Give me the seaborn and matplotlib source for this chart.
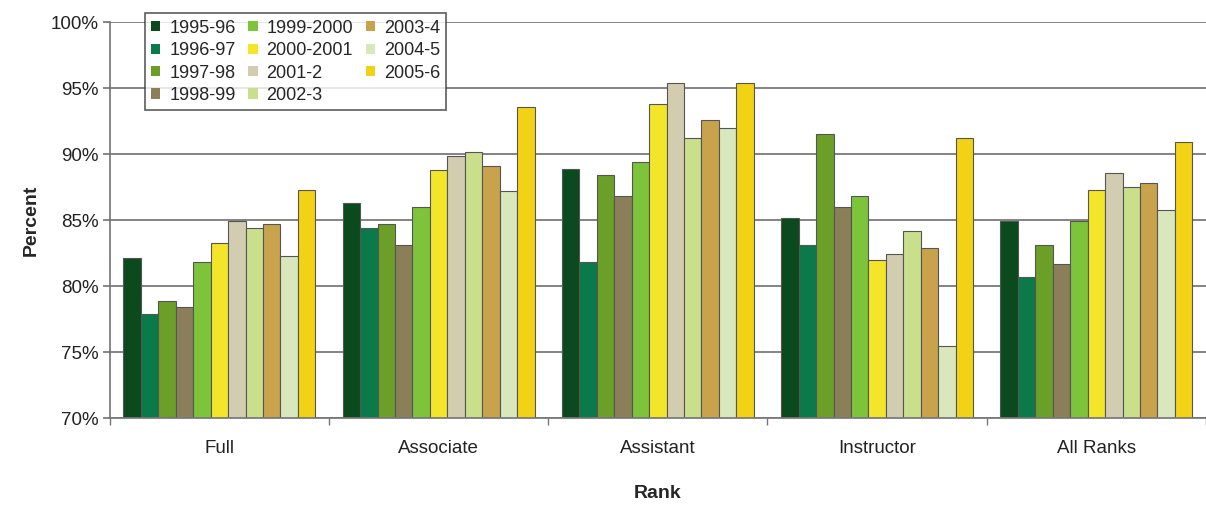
import numpy as np
import pandas as pd
import matplotlib
matplotlib.use("Agg")
import matplotlib.pyplot as plt
import seaborn as sns
from matplotlib.ticker import FuncFormatter, FixedLocator

ranks = ["Full", "Associate", "Assistant", "Instructor", "All Ranks"]
years = ["1995-96", "1996-97", "1997-98", "1998-99", "1999-2000", "2000-2001",
         "2001-2", "2002-3", "2003-4", "2004-5", "2005-6"]

full = [82.1, 77.9, 78.9, 78.4, 81.8, 83.3, 84.9, 84.4, 84.7, 82.3, 87.3]
associate = [86.3, 84.4, 84.7, 83.1, 86.0, 88.8, 89.9, 90.2, 89.1, 87.2, 93.6]
assistant = [88.9, 81.8, 88.4, 86.8, 89.4, 93.8, 95.4, 91.2, 92.6, 92.0, 95.4]
instructor = [85.2, 83.1, 91.5, 86.0, 86.8, 82.0, 82.4, 84.2, 82.9, 75.5, 91.2]
all_ranks = [84.9, 80.7, 83.1, 81.7, 84.9, 87.3, 88.6, 87.5, 87.8, 85.8, 90.9]

palette = ["#0a4a1c", "#0b7a4a", "#6c9f27", "#8a7f58", "#7dc43b", "#f3e62a",
           "#d2ccb0", "#c9df8c", "#c9a24c", "#d8e8bc", "#f1d214"]

rows = []
for rank, vals in zip(ranks, [full, associate, assistant, instructor, all_ranks]):
    for yr, v in zip(years, vals):
        rows.append({"Rank": rank, "Year": yr, "Percent": v})
df = pd.DataFrame(rows)

sns.set_theme(style="white")
plt.rcParams["font.family"] = ["Liberation Sans", "DejaVu Sans"]

fig = plt.figure(figsize=(12.06, 5.05), dpi=100)
ax = fig.add_axes([0.091, 0.172, 0.909, 0.784])

sns.barplot(data=df, x="Rank", y="Percent", hue="Year", hue_order=years,
            order=ranks, palette=palette, width=0.875, saturation=1,
            edgecolor="#555555", linewidth=0.8, ax=ax, legend=True)

ax.set_ylim(70, 100)
ax.set_xlim(-0.5, 4.5)
ax.yaxis.set_major_locator(FixedLocator(np.arange(70, 101, 5)))
ax.yaxis.set_major_formatter(FuncFormatter(lambda v, p: f"{v:.0f}%"))
ax.grid(axis="y", color="#6e6e6e", linewidth=1.2)
ax.set_axisbelow(True)

for side in ["top", "right"]:
    ax.spines[side].set_visible(False)
ax.spines["left"].set_color("#777777")
ax.spines["bottom"].set_color("#777777")

ax.tick_params(axis="y", which="major", left=True, length=5, color="#777777",
               labelsize=13.5, labelcolor="#222222", pad=3)
ax.tick_params(axis="x", which="major", bottom=False, labelsize=13.5,
               labelcolor="#222222", pad=10)
ax.set_xticks(np.arange(-0.5, 4.6, 1.0), minor=True)
ax.tick_params(axis="x", which="minor", bottom=True, length=5, color="#777777")

ax.set_ylabel("Percent", fontsize=14, fontweight="bold", labelpad=8)
ax.set_xlabel("Rank", fontsize=14, fontweight="bold", labelpad=20)

leg = ax.legend(loc="upper left", bbox_to_anchor=(0.024, 1.045), ncol=3,
                frameon=True, fontsize=13, handlelength=0.5, handleheight=0.5,
                handletextpad=0.5, columnspacing=0.7, labelspacing=0.3,
                borderpad=0.35, fancybox=False)
leg.get_frame().set_edgecolor("#333333")
leg.get_frame().set_linewidth(1.2)
for h in leg.legend_handles:
    h.set_linewidth(0)

fig.savefig("out.png", dpi=100)
